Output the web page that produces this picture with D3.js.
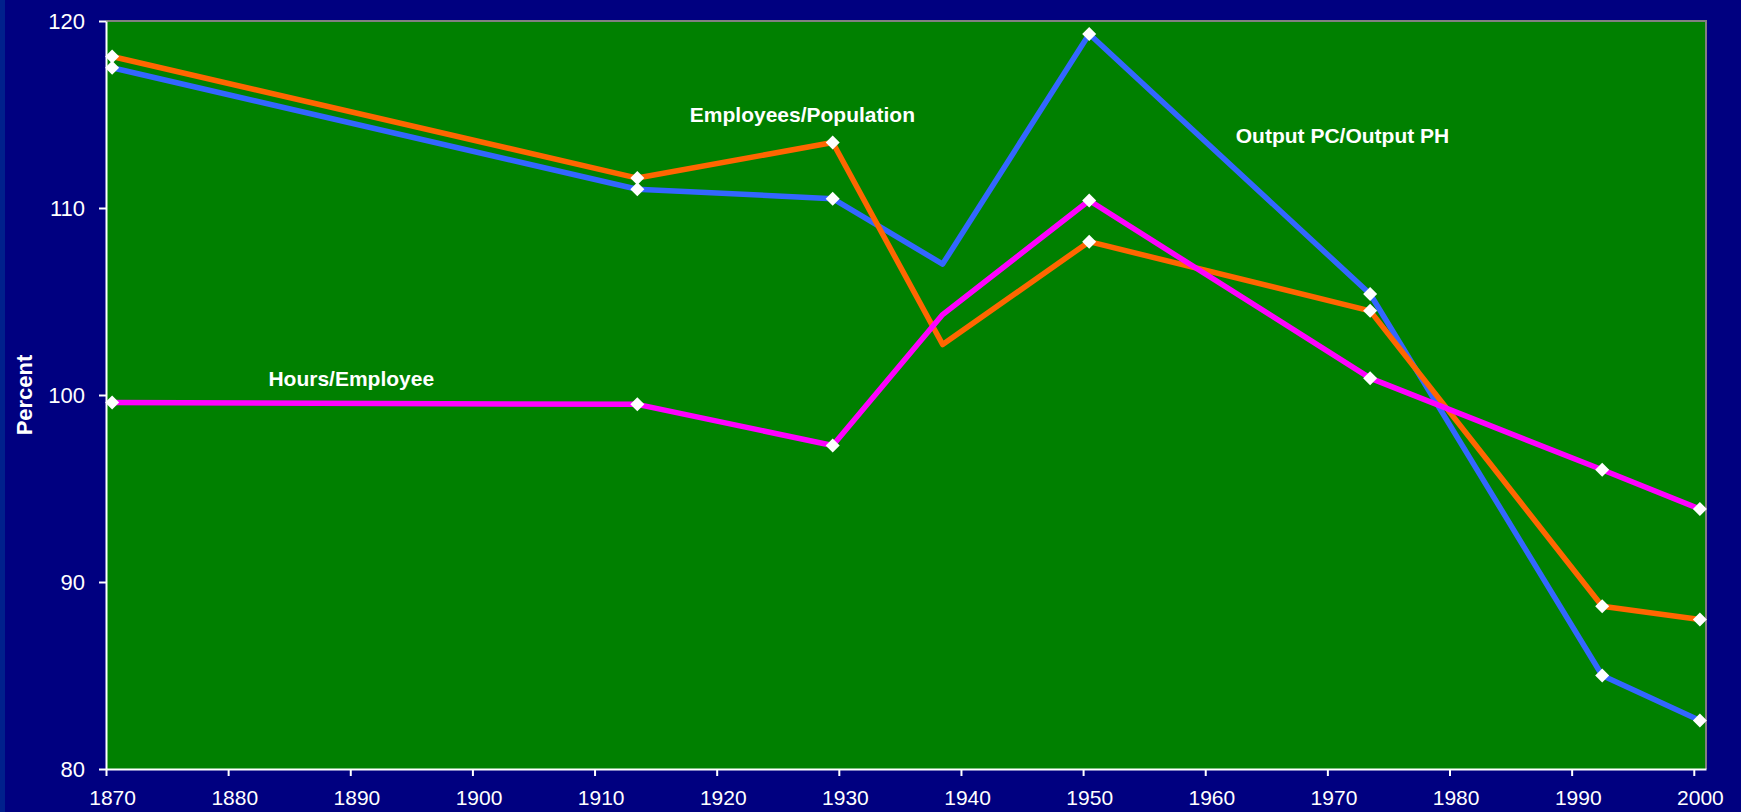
<!DOCTYPE html>
<html>
<head>
<meta charset="utf-8">
<script src="https://cdn.jsdelivr.net/npm/d3@7"></script>
<style>
  body { margin: 0; background: #000080; overflow: hidden; }
  svg { display: block; font-family: "Liberation Sans", Arial, sans-serif; }
</style>
</head>
<body>
<script>
// benchmark years carry a marker, 1938 is a plain vertex
var years = [1870, 1913, 1929, 1938, 1950, 1973, 1992, 2000];
var markerYears = [1870, 1913, 1929, 1950, 1973, 1992, 2000];

var outputRatio = [117.5, 111.0, 110.5, 107.0, 119.3, 105.4, 85.0, 82.6];
var employeesPop = [118.1, 111.6, 113.5, 102.7, 108.2, 104.5, 88.7, 88.0];
var hoursEmployee = [99.6, 99.5, 97.3, 104.3, 110.4, 100.9, 96.0, 93.9];

var seriesNames = ["Output PC/Output PH", "Employees/Population", "Hours/Employee"];
var seriesColors = ["#3366ff", "#ff6600", "#ff00ff"];
var seriesValues = [outputRatio, employeesPop, hoursEmployee];

// where the in-chart labels sit, in data units [year, value]
var labelAt = [[1962.5, 113.5], [1917.8, 114.6], [1883.3, 100.5]];

var xTicks = d3.range(1870, 2001, 10);
var yTicks = [80, 90, 100, 110, 120];

var width = 1741,
  height = 812;

var svg = d3.select("body").append("svg")
  .attr("width", width)
  .attr("height", height);

svg.append("rect").attr("width", width).attr("height", height).attr("fill", "#000080");
svg.append("rect").attr("width", 5).attr("height", height).attr("fill", "#00208c");

var x = d3.scaleLinear().domain([1870, 2001]).range([106, 1706]);
var y = d3.scaleLinear().domain([80, 120]).range([769, 21]);

// plot area
svg.append("rect")
  .attr("x", x(1870)).attr("y", y(120))
  .attr("width", x(2001) - x(1870)).attr("height", y(80) - y(120))
  .attr("fill", "#008000");

svg.append("path")
  .attr("d", "M" + x(1870) + "," + y(120) + "H" + x(2001) + "V" + y(80))
  .attr("fill", "none").attr("stroke", "#808080").attr("stroke-width", 2);

// axes
var half = x(1870.5) - x(1870);

var xAxis = svg.append("g")
  .attr("transform", "translate(0," + y(80) + ")")
  .call(d3.axisBottom(x).tickValues(xTicks).tickFormat(d3.format("d")).tickSize(7).tickPadding(14).tickSizeOuter(0));
xAxis.selectAll("text").attr("dx", half).attr("font-size", 21).attr("fill", "#fff");

var yAxis = svg.append("g")
  .attr("transform", "translate(" + x(1870) + ",0)")
  .call(d3.axisLeft(y).tickValues(yTicks).tickSize(7).tickPadding(14).tickSizeOuter(0));
yAxis.selectAll("text").attr("font-size", 22).attr("fill", "#fff");

svg.selectAll(".domain, .tick line").attr("stroke", "#fff").attr("stroke-width", 2);
svg.selectAll(".tick text").attr("font-family", "Liberation Sans, Arial, sans-serif");

svg.append("text")
  .attr("transform", "translate(32," + (y(100)) + ") rotate(-90)")
  .attr("text-anchor", "middle")
  .attr("font-size", 22)
  .attr("font-weight", "bold")
  .attr("fill", "#fff")
  .text("Percent");

// lines
var line = d3.line()
  .x(d => x(d[0] + 0.5))
  .y(d => y(d[1]));

var g = svg.append("g");

seriesValues.forEach(function (vals, i) {
  var pts = years.map((yr, j) => [yr, vals[j]]);
  g.append("path")
    .attr("d", line(pts))
    .attr("fill", "none")
    .attr("stroke", seriesColors[i])
    .attr("stroke-width", 5.5)
    .attr("stroke-linejoin", "round");
});

var r = 7;
var diamond = "M0," + (-r) + "L" + r + ",0L0," + r + "L" + (-r) + ",0Z";

seriesValues.forEach(function (vals, i) {
  var pts = years.map((yr, j) => [yr, vals[j]]).filter(p => markerYears.indexOf(p[0]) >= 0);
  g.selectAll(".m" + i)
    .data(pts)
    .enter()
    .append("path")
    .attr("d", diamond)
    .attr("transform", d => "translate(" + x(d[0] + 0.5) + "," + y(d[1]) + ")")
    .attr("fill", "#fff");
});

// series labels
svg.selectAll(".lbl")
  .data(seriesNames)
  .enter()
  .append("text")
  .attr("x", (d, i) => x(labelAt[i][0]))
  .attr("y", (d, i) => y(labelAt[i][1]))
  .attr("font-size", 21)
  .attr("font-weight", "bold")
  .attr("fill", "#fff")
  .text(d => d);
</script>
</body>
</html>
